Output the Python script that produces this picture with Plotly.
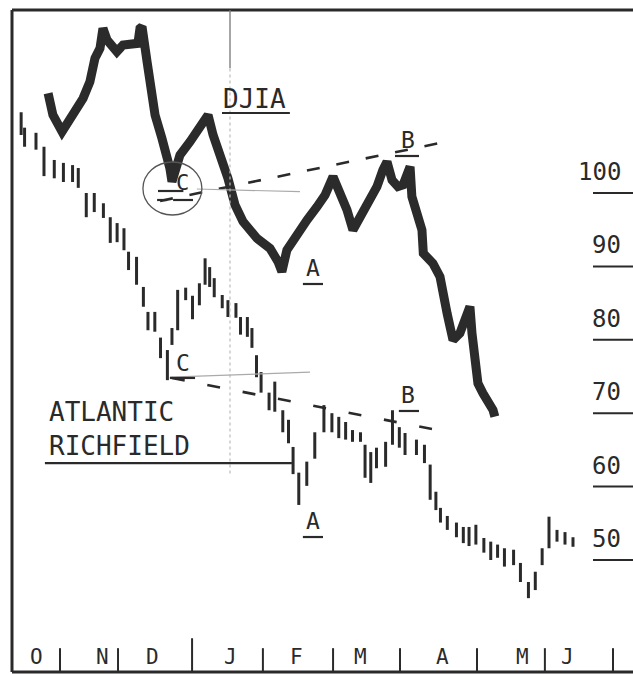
import plotly.graph_objects as go

# ---------------- data (x = calendar day counted from 30 Sep) ----------------
bar_day = [15, 16.5, 21.5, 25, 29.5, 33.5, 37.5, 40, 43.5, 47, 51, 54, 57, 60, 62, 65.5,
           68.5, 70.5, 73.5, 76, 79, 81, 83.5, 87, 90, 93, 95.5, 97.5, 99.5, 103, 105.5,
           109, 111, 114, 116, 118, 120, 123.5, 126, 129.5, 132, 134, 136.5, 140, 143.5,
           147.5, 151, 154, 157, 160, 163.5, 165.5, 168, 170.5, 174.5, 177.5, 180.5, 183,
           188, 191.5, 194, 196.5, 198.5, 201.5, 205.5, 208.5, 211, 214, 217.5, 220.5,
           223.5, 226.5, 230.5, 233.5, 237, 240, 243, 246, 249.5, 253, 256.5]
bar_high = [111.0, 108.9, 108.2, 106.3, 104.5, 104.1, 103.8, 103.4, 100.0, 100.0, 98.6, 96.7,
            95.9, 95.2, 92.0, 91.3, 87.2, 83.8, 83.8, 80.3, 78.6, 81.6, 86.8, 87.1, 86.0,
            87.7, 91.1, 89.9, 88.4, 86.1, 85.4, 85.0, 83.1, 83.1, 81.6, 77.9, 75.6, 72.8,
            74.3, 70.4, 69.1, 65.4, 61.9, 63.4, 67.4, 71.1, 70.0, 69.5, 68.8, 67.7, 67.4,
            65.7, 64.7, 65.3, 66.1, 70.4, 68.1, 67.3, 66.4, 65.7, 63.0, 59.3, 57.1, 56.0,
            55.1, 54.5, 54.5, 54.8, 53.0, 52.5, 52.1, 51.6, 51.4, 49.6, 47.0, 48.4, 51.6,
            55.9, 54.1, 53.8, 53.1]
bar_low = [107.9, 106.3, 105.9, 102.3, 102.0, 101.5, 101.5, 100.7, 96.7, 97.4, 96.6, 93.2,
           93.3, 92.2, 89.5, 87.5, 84.5, 81.3, 81.1, 77.5, 74.5, 79.3, 81.3, 85.4, 82.8,
           84.7, 87.5, 87.2, 85.8, 84.3, 83.1, 83.0, 80.7, 80.4, 78.9, 74.9, 72.8, 70.4,
           70.2, 67.4, 65.9, 61.7, 57.5, 60.1, 63.8, 67.4, 67.4, 66.6, 66.4, 66.1, 66.1,
           61.2, 60.5, 62.5, 62.7, 65.7, 65.3, 64.3, 64.3, 63.2, 58.2, 56.8, 55.1, 54.1,
           53.1, 52.3, 51.9, 52.1, 51.0, 50.0, 50.3, 49.1, 49.3, 47.0, 44.8, 45.9, 49.3,
           51.6, 52.5, 52.1, 51.8]

djia_day = [26.8, 28.9, 32.9, 37.7, 42.1, 45.1, 47.3, 49.5, 50.8, 52.6, 56.9, 59.6, 62.6,
            66.1, 67.0, 67.9, 70.1, 71.4, 73.6, 76.6, 78.8, 80.1, 81.0, 84.5, 88.9, 93.3,
            96.8, 99.0, 102.9, 105.5, 108.6, 112.1, 118.2, 123.9, 127.4, 129.1, 131.3,
            135.7, 140.1, 144.5, 148.0, 151.5, 154.5, 157.6, 160.2, 163.3, 166.8, 170.7,
            173.3, 175.1, 177.3, 179.9, 182.1, 184.3, 185.2, 186.0, 188.2, 190.4, 191.0,
            192.6, 195.2, 198.3, 199.6, 201.4, 202.7, 204.0, 207.0, 210.1, 211.4, 212.3,
            213.6, 214.9, 217.1, 219.3, 221.5, 222.3]
djia_value = [824, 811, 801, 811, 821, 831, 845, 851, 863, 856, 849, 853, 854, 854, 863, 864,
              843, 827, 811, 797, 787, 779, 771, 787, 795, 803, 811, 799, 785, 773, 757, 747,
              737, 731, 723, 717, 730, 740, 748, 756, 763, 774, 765, 754, 742, 750, 760, 768,
              778, 783, 772, 768, 769, 778, 780, 762, 752, 742, 728, 726, 722, 714, 702, 692,
              684, 676, 680, 692, 696, 680, 664, 650, 644, 640, 634, 630]

month_labels = ["O", "N", "D", "J", "F", "M", "A", "M", "J"]
month_label_day = [21.9, 50.4, 72.3, 106.4, 135.7, 163.3, 199.2, 234.6, 253.9]
month_sep_day = [32.0, 57.4, 89.8, 120.8, 151.5, 180.8, 214.5, 244.2, 274.0]
price_scale = [100, 90, 80, 70, 60, 50]

# trendlines (C -> B)
arco_trend_day, arco_trend_val = [81.0, 203.5], [74.8, 67.3]
djia_trend_day, djia_trend_val = [75.8, 198.3], [759.4, 794.2]

INK = "#2a2a2a"
FONT = "DejaVu Sans Mono"

fig = go.Figure()

# Atlantic Richfield bars
bx, by = [], []
for d, h, l in zip(bar_day, bar_high, bar_low):
    bx += [d, d, None]
    by += [l, h, None]
fig.add_trace(go.Scatter(x=bx, y=by, mode="lines", line=dict(color=INK, width=3),
                         hoverinfo="skip", showlegend=False))

# DJIA (thick line)
fig.add_trace(go.Scatter(x=djia_day, y=djia_value, yaxis="y2", mode="lines",
                         line=dict(color="#2b2b2b", width=9),
                         hoverinfo="skip", showlegend=False))

# dashed trendlines
fig.add_trace(go.Scatter(x=arco_trend_day, y=arco_trend_val, mode="lines",
                         line=dict(color=INK, width=2.6, dash="13px,23px"),
                         hoverinfo="skip", showlegend=False))
fig.add_trace(go.Scatter(x=djia_trend_day, y=djia_trend_val, yaxis="y2", mode="lines",
                         line=dict(color=INK, width=2.6, dash="13px,17px"),
                         hoverinfo="skip", showlegend=False))

shapes = []
# frame
for x0, y0, x1, y1 in [(0, 0, 0, 1), (0, 1, 1, 1), (0, 0, 1, 0)]:
    shapes.append(dict(type="line", xref="paper", yref="paper", x0=x0, y0=y0, x1=x1, y1=y1,
                       line=dict(color=INK, width=3)))
# month separators
for i, d in enumerate(month_sep_day):
    shapes.append(dict(type="line", xref="x", yref="paper", x0=d, x1=d, y0=0,
                       y1=0.051 if i == 2 else 0.036, line=dict(color=INK, width=2)))
# right price scale
annotations = []
for v in price_scale:
    shapes.append(dict(type="line", xref="paper", yref="y", x0=0.9356, x1=1, y0=v, y1=v,
                       line=dict(color=INK, width=2)))
    annotations.append(dict(x=0.984, y=v, xref="paper", yref="y", text=str(v),
                            xanchor="right", yanchor="bottom", yshift=5, showarrow=False,
                            font=dict(family=FONT, size=24, color=INK)))
# faint pencil lines
shapes.append(dict(type="line", xref="x", yref="paper", x0=106.4, x1=106.4, y0=0.912, y1=1,
                   line=dict(color="#777", width=1.3)))
shapes.append(dict(type="line", xref="x", yref="paper", x0=106.4, x1=106.4, y0=0.30, y1=0.912,
                   line=dict(color="#bbb", width=1.2, dash="dot")))
shapes.append(dict(type="line", xref="x", yref="y2", x0=91.9, x1=137.0, y0=766.6, y1=765.0,
                   line=dict(color="#aaa", width=1.2)))
shapes.append(dict(type="line", xref="x", yref="y", x0=80.1, x1=141.4, y0=74.9, y1=75.6,
                   line=dict(color="#aaa", width=1.2)))
# circle around DJIA C
shapes.append(dict(type="circle", xref="x", yref="y2", x0=68.3, x1=94.1, y0=751, y1=782.8,
                   line=dict(color="#555", width=1.3)))

# labels with underlines: (text, day, value, axis, size, ul_x0, ul_x1, ul_val)
labels = [
    ("DJIA", 117.3, 820.6, "y2", 26, 102.9, 132.6, 812.2),
    ("C", 85.8, 770.8, "y2", 22, 74.9, 86.0, 765.4),
    ("B", 184.3, 796.0, "y2", 23, 178.6, 189.1, 786.4),
    ("A", 142.7, 719.2, "y2", 23, 138.3, 147.1, 709.6),
    ("C", 85.8, 76.84, "y", 23, 80.1, 91.1, 74.8),
    ("B", 184.3, 72.48, "y", 23, 180.3, 189.1, 70.3),
    ("A", 142.7, 55.3, "y", 23, 138.3, 147.1, 53.13),
]
for t, d, v, ax, sz, u0, u1, uv in labels:
    annotations.append(dict(x=d, y=v, xref="x", yref=ax, text=t, showarrow=False,
                            xanchor="center", yanchor="middle",
                            font=dict(family=FONT, size=sz, color=INK)))
    shapes.append(dict(type="line", xref="x", yref=ax, x0=u0, x1=u1, y0=uv, y1=uv,
                       line=dict(color=INK, width=2.2)))
# dashes under DJIA C
for u0, u1 in [(74.5, 78.9), (81.5, 90.2)]:
    shapes.append(dict(type="line", xref="x", yref="y2", x0=u0, x1=u1, y0=760.0, y1=760.0,
                       line=dict(color=INK, width=2.2)))

annotations.append(dict(x=26.3, y=67.85, xref="x", yref="y", text="ATLANTIC<br>RICHFIELD",
                        showarrow=False, xanchor="left", yanchor="middle", align="left",
                        font=dict(family=FONT, size=26, color=INK)))
shapes.append(dict(type="line", xref="x", yref="y", x0=25.4, x1=133.5, y0=63.2, y1=63.2,
                   line=dict(color=INK, width=2.2)))

for m, d in zip(month_labels, month_label_day):
    annotations.append(dict(x=d, y=36.78, xref="x", yref="y", text=m, showarrow=False,
                            xanchor="center", yanchor="middle",
                            font=dict(family=FONT, size=21, color=INK)))

fig.update_layout(
    width=633, height=674,
    margin=dict(l=12, r=0, t=10, b=2),
    paper_bgcolor="white", plot_bgcolor="white",
    showlegend=False,
    xaxis=dict(range=[11.0, 282.76], visible=False, fixedrange=True),
    yaxis=dict(range=[34.74, 124.93], visible=False, fixedrange=True),
    yaxis2=dict(range=[476.8, 874.0], overlaying="y", visible=False, fixedrange=True),
    shapes=shapes, annotations=annotations,
)

fig.write_html("out.html", config={"displayModeBar": False},
               post_script="document.body.style.margin='0';document.body.style.overflow='hidden';")
